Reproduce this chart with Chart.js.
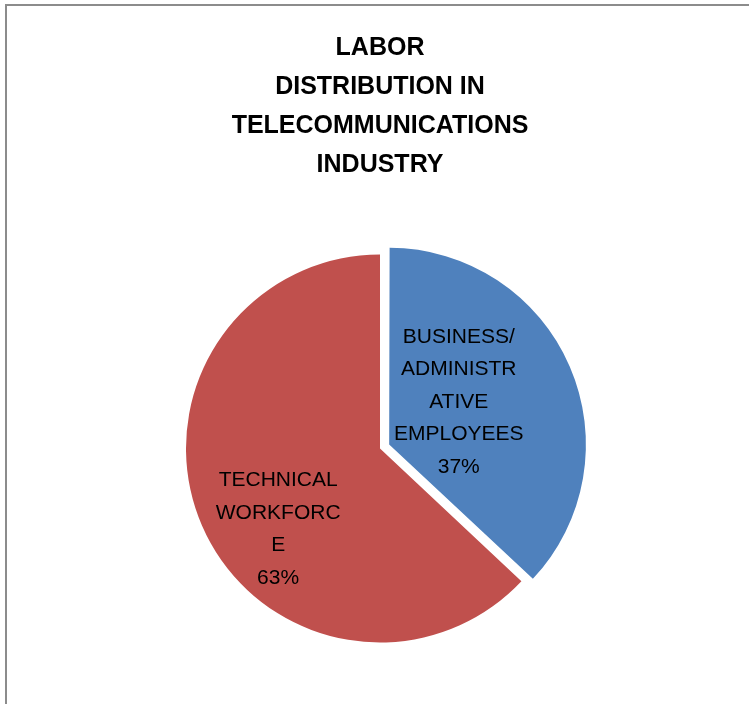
<!DOCTYPE html>
<html>
<head>
<meta charset="utf-8">
<title>Labor distribution</title>
<script src="https://cdn.jsdelivr.net/npm/chart.js@4.4.1/dist/chart.umd.min.js"></script>
<style>
  html, body { margin: 0; padding: 0; background: #fff; overflow: hidden; }
  #marco {
    position: absolute; left: 5px; top: 4px; width: 800px; height: 800px;
    border-left: 2px solid #8c8c8c; border-top: 2px solid #8c8c8c;
  }
  #cntr { position: absolute; left: 0; top: 0; width: 749px; height: 704px; }
</style>
</head>
<body>
<div id="marco"></div>
<div id="cntr"><canvas id="myChart" width="749" height="704"></canvas></div>
<script>
// Datos del grafico
const titulo = ['LABOR', 'DISTRIBUTION IN', 'TELECOMMUNICATIONS', 'INDUSTRY'];
const categorias = ['BUSINESS/ADMINISTRATIVE EMPLOYEES', 'TECHNICAL WORKFORCE'];
const valores = [37, 63];
// lineas de cada etiqueta tal como se parten dentro del sector
const lineasEtiqueta = [
  ['BUSINESS/', 'ADMINISTR', 'ATIVE', 'EMPLOYEES'],
  ['TECHNICAL', 'WORKFORC', 'E']
];

const colores = ['#4F81BD', '#C0504D'];
// desplazamiento del sector en px (Chart.js v4 mueve el arco offset/4)
const separacion = [10, 0];
// donde va cada etiqueta: fraccion del radio y giro respecto al angulo medio
const etiquetaRadio = [0.42, 0.67];
const etiquetaGiro = [-8, -15];

// Plugin para pintar las etiquetas dentro de los sectores
const etiquetas = {
  id: 'etiquetas',
  afterDatasetsDraw(chart) {
    const ctx = chart.ctx;
    const meta = chart.getDatasetMeta(0);
    const total = valores.reduce((a, b) => a + b, 0);
    ctx.save();
    ctx.font = '21px "Liberation Sans", Arial, sans-serif';
    ctx.fillStyle = '#000';
    ctx.textAlign = 'center';
    ctx.textBaseline = 'middle';
    meta.data.forEach((arc, i) => {
      const p = arc.getProps(['x', 'y', 'startAngle', 'endAngle', 'outerRadius']);
      const mid = (p.startAngle + p.endAngle) / 2;
      const ang = mid + etiquetaGiro[i] * Math.PI / 180;
      const r = p.outerRadius * etiquetaRadio[i];
      const off = separacion[i];
      const cx = p.x + Math.cos(mid) * off + Math.cos(ang) * r;
      const cy = p.y + Math.sin(mid) * off + Math.sin(ang) * r;
      const lineas = lineasEtiqueta[i].concat([Math.round(valores[i] / total * 100) + '%']);
      const alto = 32.5;
      const y0 = cy - (lineas.length - 1) * alto / 2;
      lineas.forEach((t, j) => ctx.fillText(t, cx, y0 + j * alto));
    });
    ctx.restore();
  }
};

const ctx = document.getElementById('myChart');
new Chart(ctx, {
  type: 'pie',
  data: {
    labels: categorias,
    datasets: [{
      data: valores,
      backgroundColor: colores,
      borderWidth: 0,
      offset: separacion.map(v => v * 4)
    }]
  },
  options: {
    responsive: false,
    animation: false,
    events: [],
    radius: 194,
    layout: { padding: { left: 11, right: 0, top: 0, bottom: 5 } },
    plugins: {
      legend: { display: false },
      tooltip: { enabled: false },
      title: {
        display: true,
        text: titulo,
        color: '#000',
        font: { family: '"Liberation Sans", Arial, sans-serif', size: 25, weight: 'bold', lineHeight: '39px' },
        padding: { top: 29, bottom: 13 }
      }
    }
  },
  plugins: [etiquetas]
});
</script>
</body>
</html>
